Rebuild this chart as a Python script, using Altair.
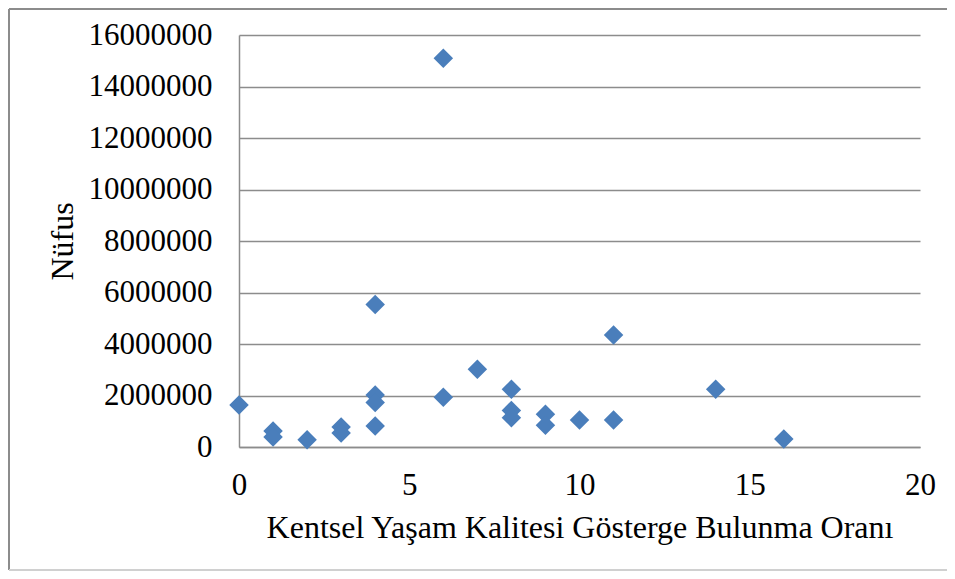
import altair as alt
import pandas as pd

# data
oran = [0, 1, 1, 2, 3, 3, 4, 4, 4, 4, 6, 6, 7, 8, 8, 8, 9, 9, 10, 11, 11, 14, 16]
nufus = [1630000, 620000, 390000, 280000, 780000, 540000, 5530000, 2020000,
         1730000, 820000, 15100000, 1930000, 3020000, 2240000, 1420000, 1140000,
         1270000, 840000, 1050000, 4350000, 1050000, 2240000, 310000]
x_ticks = [0, 5, 10, 15, 20]
y_ticks = [0, 2000000, 4000000, 6000000, 8000000, 10000000, 12000000, 14000000, 16000000]

df = pd.DataFrame({"oran": oran, "nufus": nufus})

FONT = "Liberation Serif"
FS = 31
W, H = 681, 412

points = alt.Chart(df).mark_point(
    shape="diamond", filled=True, size=380, color="#4A7EBB", opacity=1
).encode(
    x=alt.X("oran:Q",
            scale=alt.Scale(domain=[0, 20], nice=False, zero=False),
            axis=alt.Axis(values=x_ticks, grid=False, ticks=False,
                          domainColor="#8C8C8C", domainWidth=1.5,
                          labelFont=FONT, labelFontSize=FS, labelColor="black",
                          labelPadding=23, labelFlush=False,
                          title="Kentsel Yaşam Kalitesi Gösterge Bulunma Oranı",
                          titleFont=FONT, titleFontSize=32, titleFontWeight="normal",
                          titleColor="black", titleY=90, titleBaseline="alphabetic")),
    y=alt.Y("nufus:Q",
            scale=alt.Scale(domain=[0, 16000000], nice=False),
            axis=alt.Axis(values=y_ticks, format="d", grid=True, gridColor="#8C8C8C",
                          gridWidth=1.5, ticks=False,
                          domainColor="#8C8C8C", domainWidth=1.5,
                          labelFont=FONT, labelFontSize=FS, labelColor="black",
                          labelPadding=27,
                          title="Nüfus", titleFont=FONT, titleFontSize=32,
                          titleFontWeight="normal", titleColor="black",
                          titleAngle=-90, titleX=-177, titleY=206,
                          titleAlign="center", titleBaseline="middle")),
)

frame_df = pd.DataFrame({"k": [0]})
left_border = alt.Chart(frame_df).mark_rule(color="#8C8C8C", strokeWidth=2).encode(
    x=alt.value(-230), y=alt.value(-26), y2=alt.value(535))
top_border = alt.Chart(frame_df).mark_rule(color="#8C8C8C", strokeWidth=2).encode(
    x=alt.value(-230), x2=alt.value(712), y=alt.value(-26))
bottom_border = alt.Chart(frame_df).mark_rule(color="#D0D0D0", strokeWidth=2).encode(
    x=alt.value(-230), x2=alt.value(712), y=alt.value(535))

chart = alt.layer(left_border, top_border, bottom_border, points).properties(
    width=W, height=H,
    autosize=alt.AutoSizeParams(type="none"),
    padding={"left": 231, "top": 27, "right": 27, "bottom": 124},
    background="white",
).configure_view(stroke=None)

chart.save("out.html", embed_options={"renderer": "svg", "actions": False})
